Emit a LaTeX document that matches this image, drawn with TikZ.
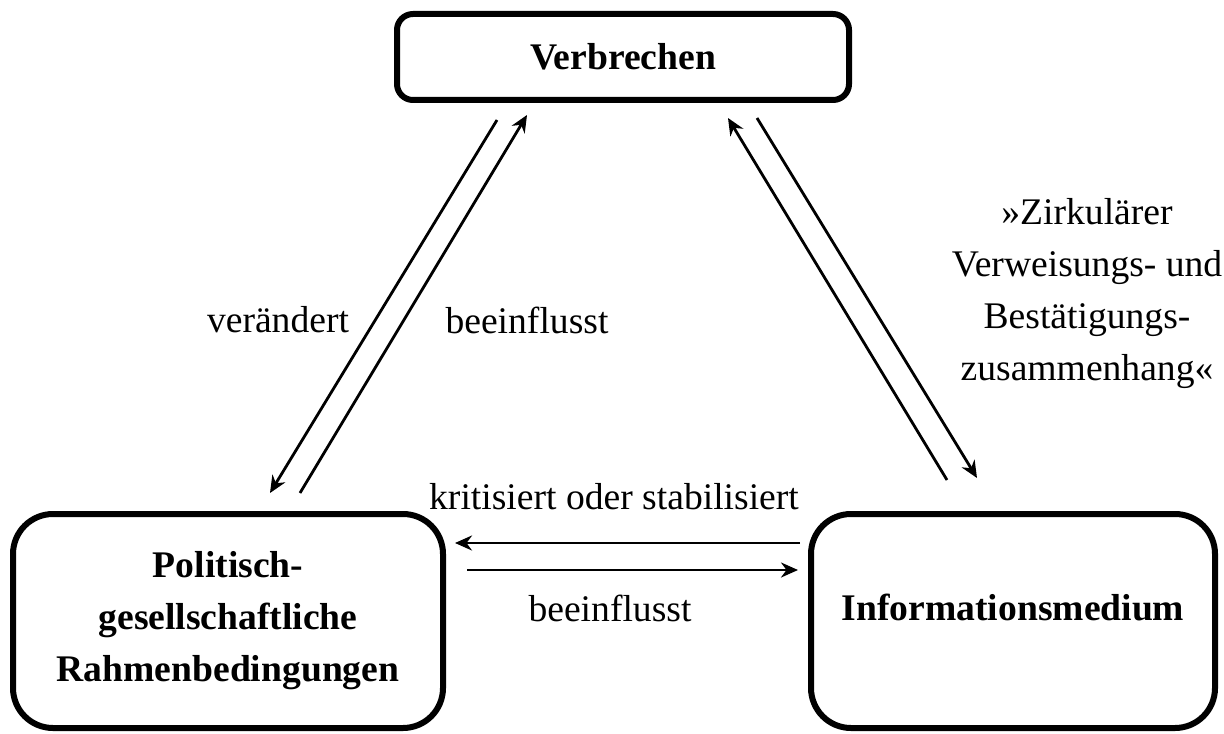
\documentclass[tikz,border=0pt]{standalone}
\usepackage{fontspec}
\setmainfont{Liberation Serif}
\usetikzlibrary{arrows.meta,calc}

\begin{document}
\begin{tikzpicture}[x=0.5pt,y=-0.5pt,>={Stealth[length=8.5pt,width=7.5pt]},
  box/.style={draw,line width=3pt,rounded corners=8pt,align=center,
    font=\fontsize{18.8}{26}\selectfont\bfseries},
  lbl/.style={align=center,font=\fontsize{18.8}{26}\selectfont},
  arr/.style={->,line width=1.4pt}]
\useasboundingbox (0,0) rectangle (1224,733);
% boxes
\node[box,minimum width=226pt,minimum height=43pt] (verb) at (623,57) {Verbrechen};
\node[box,rounded corners=20pt,minimum width=215pt,minimum height=107pt] (pol) at (228,621)
  {Politisch-\\gesellschaftliche\\Rahmenbedingungen};
\node[box,rounded corners=20pt,minimum width=202pt,minimum height=107pt,text depth=14pt] (info) at (1013,621)
  {Informationsmedium};
% arrows
\draw[arr] ($(verb.south)+(-126,17)$) -- ($(pol.north)+(42,-18)$);
\draw[arr] ($(pol.north)+(72,-18)$) -- ($(verb.south)+(-96,12)$);
\draw[arr] ($(info.north)+(-66,-31)$) -- ($(verb.south)+(105,15)$);
\draw[arr] ($(verb.south)+(134,15)$) -- ($(info.north)+(-36,-33)$);
\draw[arr] ($(info.west)+(-8,-78)$) -- ($(pol.east)+(9,-78)$);
\draw[arr] ($(pol.east)+(21,-51)$) -- ($(info.west)+(-10,-51)$);
% labels
\node[lbl] (lveraendert) at (278,320) {verändert};
\node[lbl] (lbeeinfl) at (527,320) {beeinflusst};
\node[lbl] (lkritisiert) at (614,497) {kritisiert oder stabilisiert};
\node[lbl] (lbeeinfl2) at (610,608) {beeinflusst};
\node[lbl] (lzirkular) at (1087,294) {»Zirkulärer\\Verweisungs- und\\Bestätigungs-\\zusammenhang«};
\end{tikzpicture}
\end{document}
